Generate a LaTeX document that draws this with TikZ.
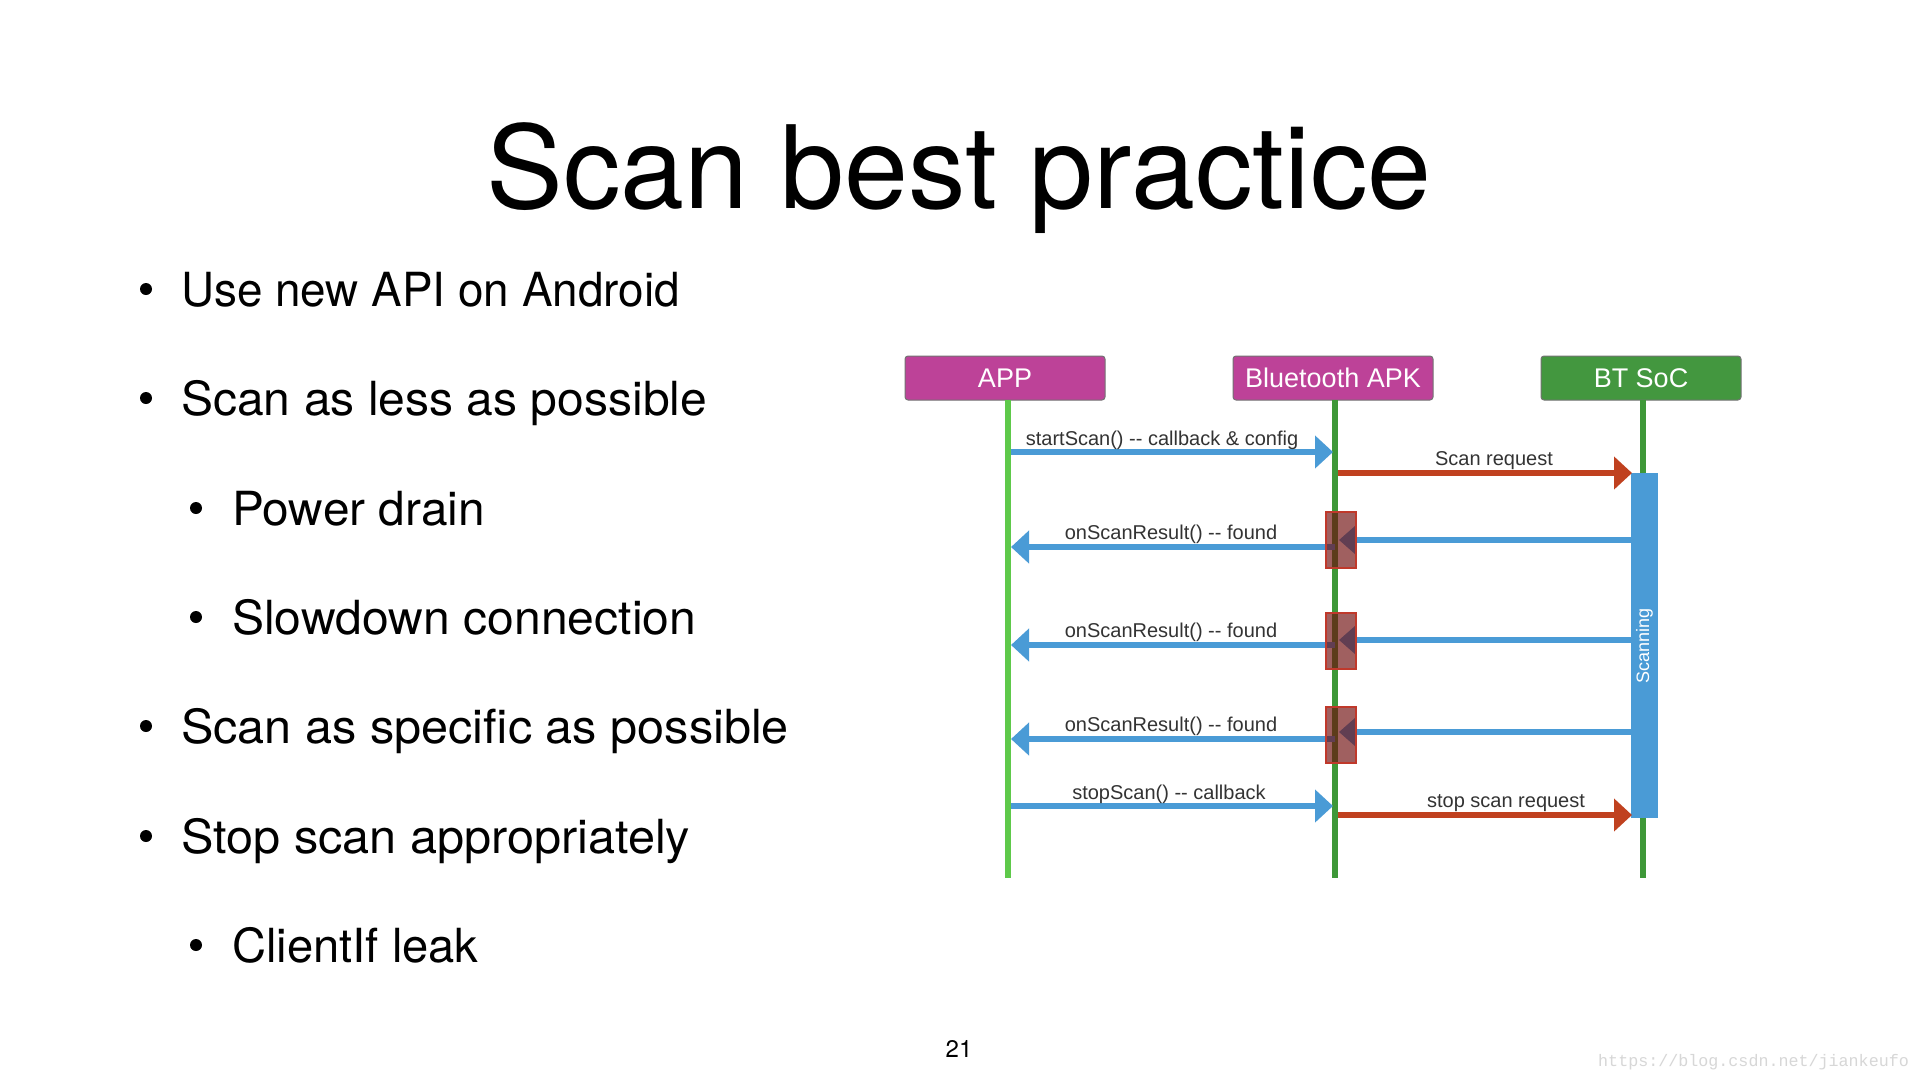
\documentclass[tikz,border=0pt]{standalone}
\usepackage{fontspec}
\setmainfont{TeX Gyre Heros}
\newfontfamily\diagfont{Liberation Sans}
\newfontfamily\wmfont{Liberation Mono}
\usetikzlibrary{arrows.meta}
\definecolor{msgblue}{RGB}{74,155,214}
\definecolor{msgred}{RGB}{192,65,31}
\definecolor{actmag}{RGB}{189,66,152}
\definecolor{actgreen}{RGB}{67,151,63}
\definecolor{lifelight}{RGB}{94,201,74}
\definecolor{lifedark}{RGB}{62,152,56}
\definecolor{boxfill}{RGB}{110,13,13}
\definecolor{boxedge}{RGB}{192,57,43}
\definecolor{labelgray}{RGB}{51,51,51}
\definecolor{wmgray}{RGB}{215,215,215}
\newcommand{\wide}[2]{\scalebox{#1}[1]{#2}}
\begin{document}
\begin{tikzpicture}[x=1pt,y=-1pt,
  actor/.style={draw=black!55, line width=1pt, rounded corners=3pt, minimum width=200pt, minimum height=44pt, inner sep=0pt, text=white, font=\diagfont\fontsize{27}{30}\selectfont},
  lifeline/.style={line width=6pt},
  msg/.style={line width=6pt, -{Triangle[length=18pt,width=32pt]}},
  retmsg/.style={line width=6pt, -{Triangle[length=16pt,width=27pt]}},
  msglabel/.style={anchor=base, inner sep=0pt, text=labelgray, font=\diagfont\fontsize{20}{24}\selectfont},
  bullettext/.style={anchor=base west, inner sep=0pt, font=\fontsize{47}{56}\selectfont},
  dot/.style={circle, fill=black, minimum size=12pt, inner sep=0pt},
  activation/.style={fill=boxfill, fill opacity=0.656, draw=boxedge, line width=2pt, minimum width=30pt, minimum height=56pt, inner sep=0pt}
]
\useasboundingbox (0,0) rectangle (1920,1080);
\fill[white] (0,0) rectangle (1920,1080);

% Title
\node[anchor=base, inner sep=0pt, font=\fontsize{115}{130}\selectfont] (title) at (959,208) {Scan best practice};

% Bullets
\node[dot] (d1) at (146,289) {};
\node[bullettext] (t1) at (181,306) {\wide{0.975}{Use new API on Android}};
\node[dot] (d2) at (146,398) {};
\node[bullettext] (t2) at (181,415) {\wide{1.022}{Scan as less as possible}};
\node[dot] (d3) at (196,508) {};
\node[bullettext] (t3) at (232,525) {\wide{1.017}{Power drain}};
\node[dot] (d4) at (196,617) {};
\node[bullettext] (t4) at (232,634) {\wide{1.023}{Slowdown connection}};
\node[dot] (d5) at (146,726) {};
\node[bullettext] (t5) at (181,743) {\wide{1.034}{Scan as specific as possible}};
\node[dot] (d6) at (146,836) {};
\node[bullettext] (t6) at (181,853) {\wide{1.035}{Stop scan appropriately}};
\node[dot] (d7) at (196,945) {};
\node[bullettext] (t7) at (232,962) {\wide{1.003}{ClientIf leak}};

% Page number and watermark
\node[anchor=base, inner sep=0pt, font=\fontsize{24}{28}\selectfont] (pg) at (959,1057) {21};
\node[anchor=base west, inner sep=0pt, text=wmgray, font=\wmfont\fontsize{16.7}{20}\selectfont] (wm) at (1598,1066) {https://blog.csdn.net/jiankeufo};

% Actors
\node[actor, fill=actmag] (app) at (1005,378) {APP};
\node[actor, fill=actmag] (bt) at (1333,378) {Bluetooth APK};
\node[actor, fill=actgreen] (soc) at (1641,378) {BT SoC};

% Lifelines
\coordinate (appT) at (1008,400); \coordinate (appB) at (1008,878);
\coordinate (btT) at (1335,400); \coordinate (btB) at (1335,878);
\coordinate (socT) at (1643,400); \coordinate (socB) at (1643,878);
\draw[lifeline, lifelight] (appT) -- (appB);
\draw[lifeline, lifedark] (btT) -- (btB);
\draw[lifeline, lifedark] (socT) -- (socB);

% Scanning bar
\node[fill=msgblue, minimum width=27pt, minimum height=345pt, inner sep=0pt] (scan) at (1644.5,645.5) {};
\node[rotate=90, text=white, inner sep=0pt, font=\diagfont\fontsize{18}{20}\selectfont] (scantxt) at (scan.center) {Scanning};

% Message endpoints
\coordinate (s1a) at (1011,452); \coordinate (s1b) at (1333,452);
\coordinate (r1a) at (1338,473); \coordinate (r1b) at (1632,473);
\coordinate (f1a) at (1335,547); \coordinate (f1b) at (1011,547);
\coordinate (g1a) at (1631,540); \coordinate (g1b) at (1339,540);
\coordinate (f2a) at (1335,645); \coordinate (f2b) at (1011,645);
\coordinate (g2a) at (1631,640); \coordinate (g2b) at (1339,640);
\coordinate (f3a) at (1335,739); \coordinate (f3b) at (1011,739);
\coordinate (g3a) at (1631,732); \coordinate (g3b) at (1339,732);
\coordinate (s2a) at (1011,806); \coordinate (s2b) at (1333,806);
\coordinate (r2a) at (1338,815); \coordinate (r2b) at (1632,815);

% Messages
\draw[msg, msgblue] (s1a) -- (s1b);
\draw[msg, msgred] (r1a) -- (r1b);
\draw[msg, msgblue] (f1a) -- (f1b);
\draw[retmsg, msgblue] (g1a) -- (g1b);
\draw[msg, msgblue] (f2a) -- (f2b);
\draw[retmsg, msgblue] (g2a) -- (g2b);
\draw[msg, msgblue] (f3a) -- (f3b);
\draw[retmsg, msgblue] (g3a) -- (g3b);
\draw[msg, msgblue] (s2a) -- (s2b);
\draw[msg, msgred] (r2a) -- (r2b);

% Activation boxes
\node[activation] (act1) at (1341,540) {};
\node[activation] (act2) at (1341,641) {};
\node[activation] (act3) at (1341,735) {};

% Labels
\node[msglabel] (l1) at (1162,445) {startScan() -- callback \& config};
\node[msglabel] (l2) at (1494,465) {Scan request};
\node[msglabel] (l3) at (1171,539) {onScanResult() -- found};
\node[msglabel] (l4) at (1171,637) {onScanResult() -- found};
\node[msglabel] (l5) at (1171,731) {onScanResult() -- found};
\node[msglabel] (l6) at (1169,799) {stopScan() -- callback};
\node[msglabel] (l7) at (1506,807) {stop scan request};
\end{tikzpicture}
\end{document}
